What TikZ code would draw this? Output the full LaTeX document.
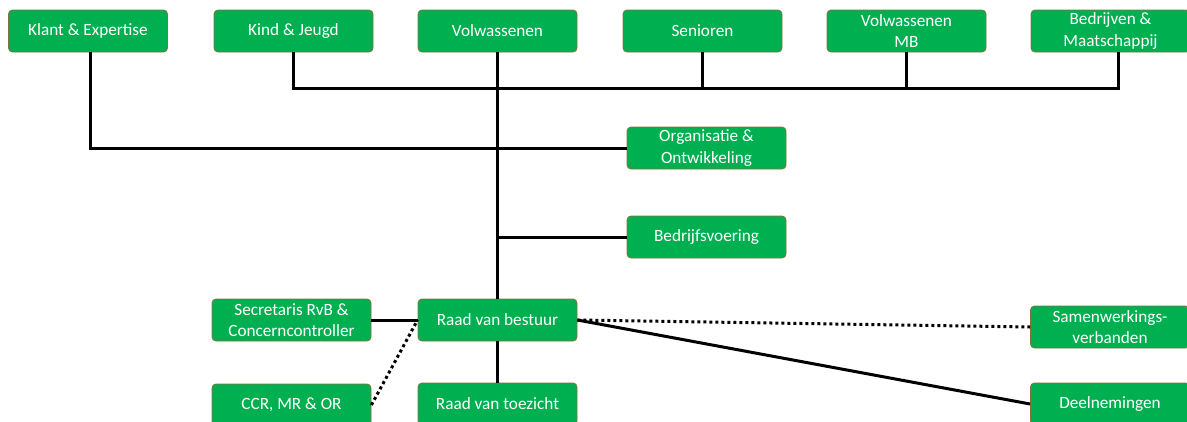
\documentclass[tikz,border=0pt]{standalone}
\usepackage{fontspec}
\setmainfont{Carlito}
\definecolor{boxgreen}{RGB}{0,176,80}
\definecolor{boxedge}{RGB}{125,115,60}
\begin{document}
\begin{tikzpicture}[x=1pt,y=-1pt,
  box/.style={draw=boxedge,line width=0.8pt,fill=boxgreen,rounded corners=4pt,
    minimum width=159pt,minimum height=42pt,inner sep=0pt,text=white,align=center,
    font=\fontsize{17.2}{21.5}\selectfont},
  conn/.style={line width=3pt,black},
  dotconn/.style={line width=3pt,black,dash pattern=on 3pt off 3pt}]
\useasboundingbox (0,0) rectangle (1187,421);
\clip (0,0) rectangle (1187,421);
% top row
\node[box] (klant) at (88,31) {Klant \& Expertise};
\node[box] (kind) at (293.5,31) {Kind \& Jeugd};
\node[box] (volw) at (497.5,31) {Volwassenen};
\node[box] (sen) at (702.5,31) {Senioren};
\node[box] (vmb) at (906.5,31) {Volwassenen\\MB};
\node[box] (bedr) at (1110.5,31) {Bedrijven \&\\Maatschappij};
% right column
\node[box] (org) at (706.5,148) {Organisatie \&\\Ontwikkeling};
\node[box] (bv) at (706.5,237) {Bedrijfsvoering};
% lower
\node[box] (rvb) at (497.5,320) {Raad van bestuur};
\node[box] (sec) at (291.5,320) {Secretaris RvB \&\\Concerncontroller};
\node[box] (ccr) at (291.5,405) {CCR, MR \& OR};
\node[box] (rvt) at (497.5,404) {Raad van toezicht};
\node[box] (samen) at (1110,327) {Samenwerkings-\\verbanden};
\node[box] (deel) at (1110,404) {Deelnemingen};
% connectors
\coordinate (hb) at (1118,88);
\coordinate (klb) at (90,52);
\draw[conn] (volw.south) -- (rvb.north);
\draw[conn] (klb) |- (org.west);
\draw[conn] (kind.south) |- (hb) -- (hb |- bedr.south);
\draw[conn] (sen.south) -- (sen.south |- hb);
\draw[conn] (vmb.south) -- (vmb.south |- hb);
\draw[conn] (volw.south |- bv.west) -- (bv.west);
\draw[conn] (sec.east) -- (rvb.west);
\draw[dotconn] (ccr.east) -- (rvb.west);
\draw[conn] (rvb.south) -- (rvt.north);
\draw[dotconn] (rvb.east) -- (samen.west);
\draw[conn] (rvb.east) -- (deel.west);
\end{tikzpicture}
\end{document}
